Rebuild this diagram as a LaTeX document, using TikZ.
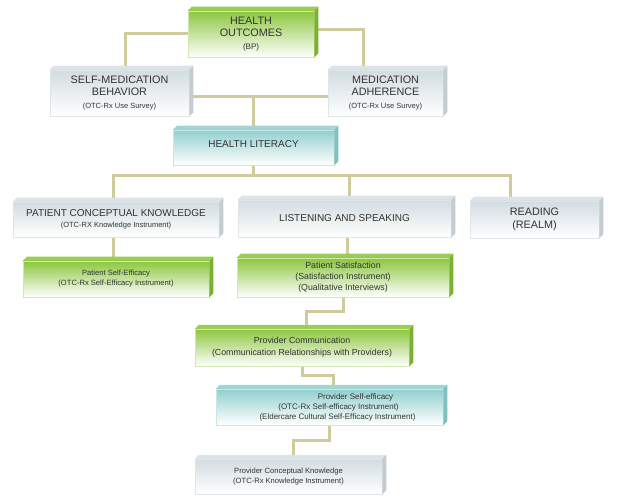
\documentclass[tikz,border=0pt]{standalone}
\usepackage{fontspec}
\setmainfont{Liberation Sans}
\usetikzlibrary{backgrounds,calc}

\definecolor{grn}{HTML}{8CC63F}
\definecolor{grntop}{HTML}{9BCD55}
\definecolor{grnside}{HTML}{79B22F}
\definecolor{gry}{HTML}{D2DCE0}
\definecolor{grytop}{HTML}{DCE4E7}
\definecolor{gryside}{HTML}{C3CDD1}
\definecolor{tea}{HTML}{92CFCE}
\definecolor{teatop}{HTML}{A2D6D5}
\definecolor{teaside}{HTML}{7EC1C0}
\definecolor{linkc}{HTML}{CFCB9C}
\definecolor{txt}{HTML}{333333}

\newcommand{\fsz}[2]{\fontsize{#1}{#2}\selectfont}

\begin{document}
\begin{tikzpicture}[x=1pt,y=1pt,
        greenbox/.style={top color=grn, bottom color=white, draw=grn!40, line width=0.5pt,
            inner sep=0pt, align=center, text=txt},
        greybox/.style={top color=gry, bottom color=white, draw=gry!70, line width=0.5pt,
            inner sep=0pt, align=center, text=txt},
        tealbox/.style={top color=tea, bottom color=white, draw=tea!50, line width=0.5pt,
            inner sep=0pt, align=center, text=txt},
        link/.style={draw=linkc, line width=3pt}]

    \useasboundingbox (0,0) rectangle (623,501);

    % boxes (front faces)
    \node[greenbox, minimum width=126pt, minimum height=46pt, font=\fsz{10.8}{12.5}] (ho) at (251,467)
        {HEALTH\\OUTCOMES\\{\fsz{8}{10}(BP)}};
    \node[greybox, minimum width=139pt, minimum height=46pt, font=\fsz{10.8}{12.5}] (smb) at (119.5,408)
        {SELF-MEDICATION\\BEHAVIOR\\{\fsz{7.5}{10}(OTC-Rx Use Survey)}};
    \node[greybox, minimum width=115pt, minimum height=46pt, font=\fsz{10.8}{12.5}] (ma) at (385.5,408)
        {MEDICATION\\ADHERENCE\\{\fsz{7.5}{10}(OTC-Rx Use Survey)}};
    \node[tealbox, minimum width=161pt, minimum height=35pt, font=\fsz{10}{12}] (hl) at (253.5,353.5)
        {\raisebox{7pt}{HEALTH LITERACY}};

    \node[greybox, minimum width=206pt, minimum height=35pt, font=\fsz{10}{11}] (pck) at (116,281.5)
        {PATIENT CONCEPTUAL KNOWLEDGE\\{\fsz{7.5}{10}(OTC-RX Knowledge Instrument)}};
    \node[greybox, minimum width=213pt, minimum height=37pt, font=\fsz{10}{12}] (ls) at (344.5,282.5)
        {LISTENING AND SPEAKING};
    \node[greybox, minimum width=129pt, minimum height=37pt, font=\fsz{10.8}{13}] (read) at (534.5,281.5)
        {READING\\(REALM)};

    \node[greenbox, minimum width=186pt, minimum height=36pt, font=\fsz{7.6}{10}] (pse) at (116,222)
        {Patient Self-Efficacy\\(OTC-Rx Self-Efficacy Instrument)};
    \node[greenbox, minimum width=212pt, minimum height=39pt, font=\fsz{8.8}{11}] (ps) at (343,223.5)
        {Patient Satisfaction\\(Satisfaction Instrument)\\(Qualitative Interviews)};
    \node[greenbox, minimum width=214pt, minimum height=37pt, font=\fsz{8.8}{12}] (pc) at (302,153.5)
        {Provider Communication\\(Communication Relationships with Providers)};
    \node[tealbox, minimum width=227pt, minimum height=36pt, font=\fsz{8}{10}] (pse2) at (329.5,94)
        {\hspace*{52pt}Provider Self-efficacy\\\hspace*{18pt}(OTC-Rx Self-efficacy Instrument)\\
         \hspace*{16pt}(Eldercare Cultural Self-Efficacy Instrument)};
    \node[greybox, minimum width=187pt, minimum height=35pt, font=\fsz{7.6}{10}] (pck2) at (288.5,24.5)
        {Provider Conceptual Knowledge\\(OTC-Rx Knowledge Instrument)};

    % top and side faces
    \foreach \n/\t/\s in {ho/grntop/grnside, smb/grytop/gryside, ma/grytop/gryside,
            hl/teatop/teaside, pck/grytop/gryside, ls/grytop/gryside, read/grytop/gryside,
            pse/grntop/grnside, ps/grntop/grnside, pc/grntop/grnside,
            pse2/teatop/teaside, pck2/grytop/gryside} {
        \fill[\t] (\n.north west) -- ++(4,4) -- ($(\n.north east)+(4,4)$) -- (\n.north east) -- cycle;
        \fill[\s] (\n.north east) -- ++(4,4) -- ($(\n.south east)+(4,4)$) -- (\n.south east) -- cycle;
    }

    % connectors
    \begin{scope}[on background layer]
        \draw[link] (ho.west) -| ([xshift=5.5pt]smb.north);
        \draw[link] ([yshift=4pt]ho.east) -| ([xshift=-22.5pt]ma.north);
        \draw[link] ([yshift=-4pt]smb.east) -- ([yshift=-4pt]ma.west);
        \draw[link] (hl.north) -- ($(hl.north)+(0,33)$);
        \coordinate (bus) at ($(hl.south)+(0,-10)$);
        \draw[link] (hl.south) -- (bus);
        \draw[link] ([xshift=-3pt]pck.north) |- (bus) -| ([xshift=-24.5pt]read.north);
        \draw[link] ([xshift=4.5pt]ls.north) -- ([xshift=4.5pt]ls.north |- bus);
        \draw[link] ([xshift=-3pt]pck.south) -- ([xshift=-3pt]pse.north);
        \draw[link] ([xshift=2.5pt]ls.south) -- ([xshift=2.5pt]ls.south |- ps.north);
        \draw[link] (ps.south) -- ++(0,-14) -| ([xshift=4pt]pc.north);
        \draw[link] (pc.south) -- ++(0,-9) -| ([xshift=3.5pt]pse2.north);
        \draw[link] (pse2.south) -- ++(0,-15) -| ([xshift=4.5pt]pck2.north);
    \end{scope}
\end{tikzpicture}
\end{document}
